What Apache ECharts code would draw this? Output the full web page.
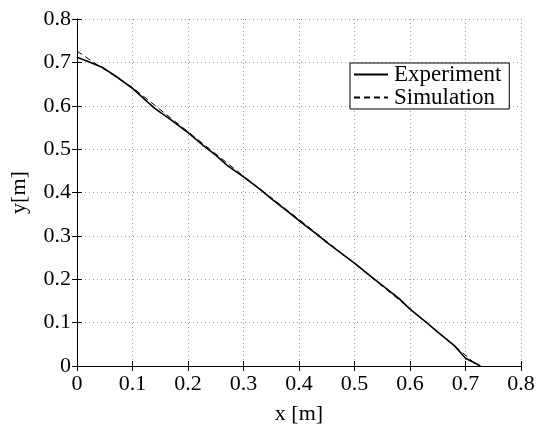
<!DOCTYPE html>
<html>
<head>
<meta charset="utf-8">
<script src="https://cdn.jsdelivr.net/npm/echarts@6/dist/echarts.min.js"></script>
<style>
html,body{margin:0;padding:0;background:#fff;}
#chart{width:543px;height:430px;}
</style>
</head>
<body>
<div id="chart"></div>
<script>
// measured trajectory, x[m] / y[m]
const expX=[0,0.02,0.045,0.07,0.1,0.12,0.14,0.17,0.2,0.23,0.25,0.27,0.3,0.33,0.35,0.38,0.4,0.43,0.45,0.48,0.5,0.53,0.55,0.58,0.6,0.63,0.65,0.68,0.7,0.715,0.727];
const expY=[0.712,0.702,0.689,0.668,0.640,0.617,0.594,0.567,0.538,0.506,0.486,0.463,0.436,0.407,0.386,0.356,0.335,0.306,0.285,0.256,0.237,0.206,0.186,0.156,0.131,0.100,0.078,0.047,0.018,0.008,0];
// simulated trajectory
const simX=[0,0.03,0.1,0.2,0.3,0.4,0.5,0.6,0.7,0.722];
const simY=[0.726,0.700,0.642,0.540,0.438,0.338,0.236,0.132,0.025,0];

const seriesNames=['Experiment','Simulation'];
const xTicks=[0,0.8,0.1];
const yTicks=[0,0.8,0.1];

const font='"Liberation Serif", "Times New Roman", serif';
const fs=22;
const fmt=function(v){return v===0?'0':v.toFixed(1);};

function pairs(xs,ys){
  let out=[];
  for(let i=0;i<xs.length;i++) out.push([xs[i],ys[i]]);
  return out;
}

const chart=echarts.init(document.getElementById('chart'),null,{renderer:'canvas'});

const gridLine={show:true,lineStyle:{color:'#9a9a9a',type:[1,3],width:1}};
const axLine={show:true,lineStyle:{color:'#000',width:1}};
const tick={show:true,inside:true,length:5,lineStyle:{color:'#000'}};

let option={
  animation:false,
  backgroundColor:'#fff',
  grid:{left:72,top:19,right:22,bottom:57,containLabel:false},
  legend:{
    orient:'vertical',
    left:350,top:63,
    data:seriesNames,
    backgroundColor:'#fff',
    borderColor:'#000',borderWidth:1,borderRadius:0,
    padding:[0,8,0,3],
    itemGap:0,
    itemWidth:34,itemHeight:22,
    itemStyle:{color:'transparent',borderColor:'transparent',borderWidth:0,opacity:0},
    textStyle:{fontFamily:font,fontSize:23,color:'#000',padding:[0,0,0,1]}
  },
  xAxis:[{
    type:'value',min:xTicks[0],max:xTicks[1],interval:xTicks[2],
    name:'x [m]',nameLocation:'middle',nameGap:37,
    nameTextStyle:{fontFamily:font,fontSize:fs,color:'#000'},
    axisLine:axLine,axisTick:tick,splitLine:gridLine,
    axisLabel:{formatter:fmt,fontFamily:font,fontSize:fs,color:'#000',margin:7}
  },{
    type:'value',position:'top',min:xTicks[0],max:xTicks[1],interval:xTicks[2],
    axisLine:axLine,axisTick:tick,splitLine:{show:false},axisLabel:{show:false}
  }],
  yAxis:[{
    type:'value',min:yTicks[0],max:yTicks[1],interval:yTicks[2],
    name:'y[m]',nameLocation:'middle',nameGap:47,
    nameTextStyle:{fontFamily:font,fontSize:fs,color:'#000'},
    axisLine:axLine,axisTick:tick,splitLine:gridLine,
    axisLabel:{formatter:fmt,fontFamily:font,fontSize:fs,color:'#000',margin:6}
  },{
    type:'value',position:'right',min:yTicks[0],max:yTicks[1],interval:yTicks[2],
    axisLine:axLine,axisTick:tick,splitLine:{show:false},axisLabel:{show:false}
  }],
  series:[
    {
      name:seriesNames[0],type:'line',data:pairs(expX,expY),
      symbol:'none',smooth:false,
      lineStyle:{color:'#000',width:1.6},itemStyle:{color:'#000'}
    },
    {
      name:seriesNames[1],type:'line',data:pairs(simX,simY),
      symbol:'none',smooth:false,
      lineStyle:{color:'#000',width:1,type:[6,4]},itemStyle:{color:'#000'}
    }
  ]
};
chart.setOption(option);
</script>
</body>
</html>
